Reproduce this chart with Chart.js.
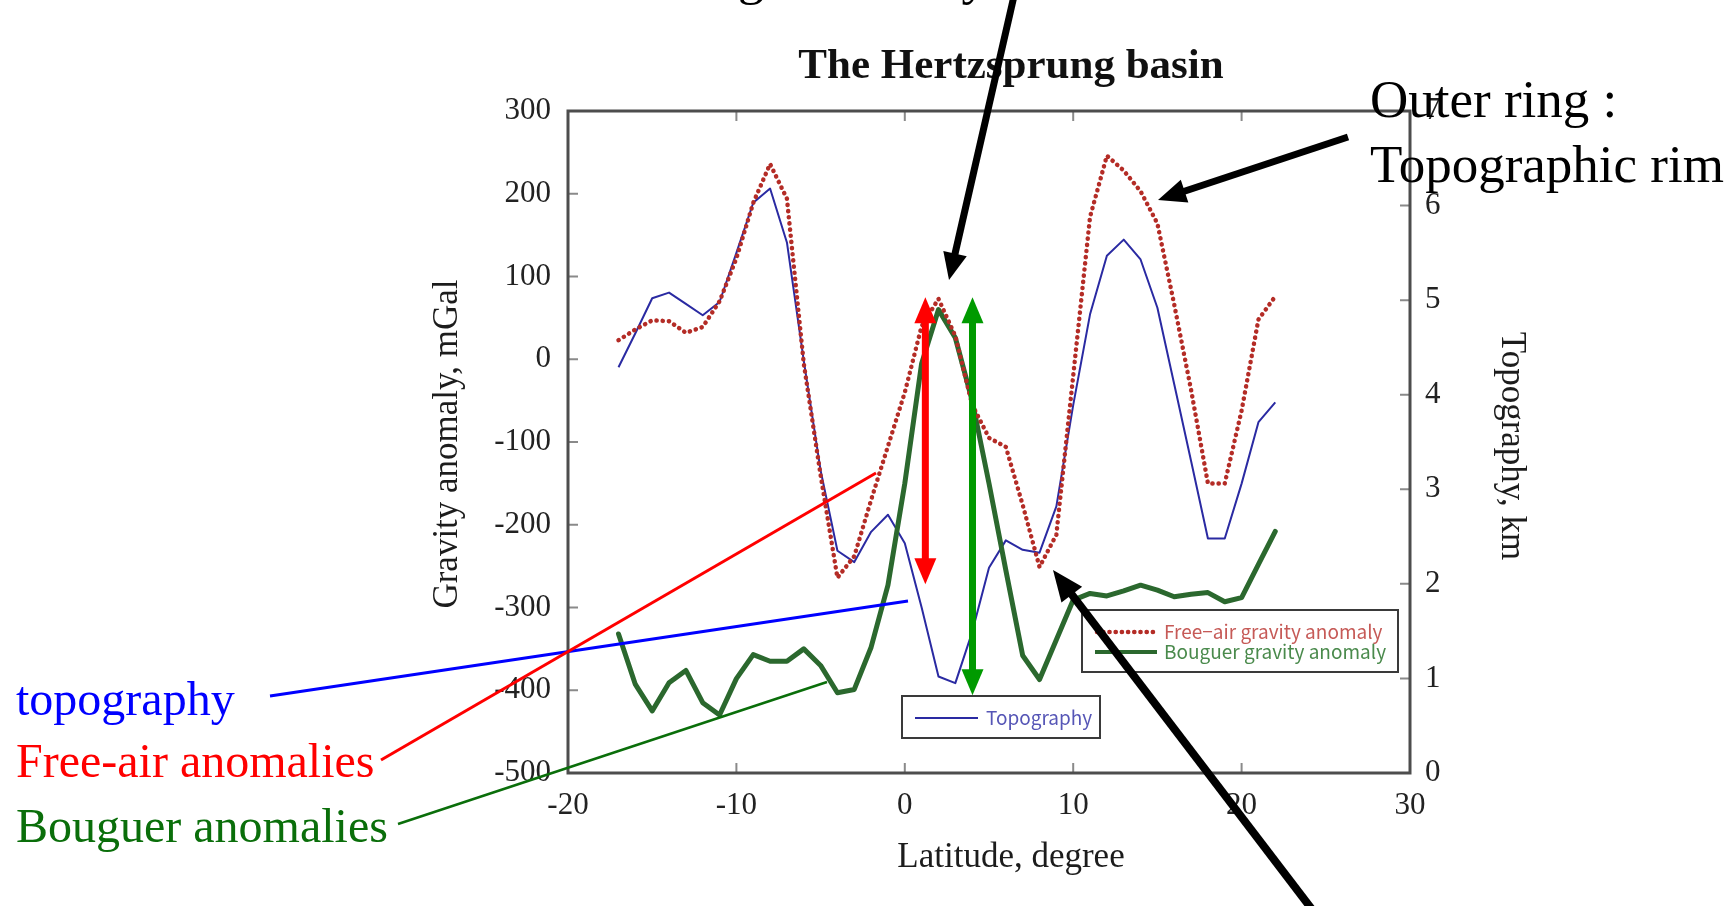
<!DOCTYPE html>
<html>
<head>
<meta charset="utf-8">
<title>The Hertzsprung basin</title>
<script src="https://cdn.jsdelivr.net/npm/chart.js@4.4.1/dist/chart.umd.min.js"></script>
<style>
  html, body { margin: 0; padding: 0; background: #ffffff; }
  canvas { display: block; }
</style>
</head>
<body>
<canvas id="profile" width="1736" height="906"></canvas>
<script>
// Profile across the Hertzsprung basin, sampled every degree of latitude.
const latitude = [-17, -16, -15, -14, -13, -12, -11, -10, -9, -8,
                  -7, -6, -5, -4, -3, -2, -1, 0, 1, 2,
                  3, 4, 5, 6, 7, 8, 9, 10, 11, 12,
                  13, 14, 15, 16, 17, 18, 19, 20, 21, 22];

// Topography, km (right axis)
const topographyKm = [4.29, 4.65, 5.02, 5.08, 4.96, 4.84, 4.98, 5.50, 6.03, 6.18,
                      5.61, 4.36, 3.20, 2.35, 2.23, 2.55, 2.73, 2.43, 1.75, 1.02,
                      0.95, 1.49, 2.17, 2.46, 2.36, 2.33, 2.82, 3.89, 4.85, 5.47,
                      5.64, 5.43, 4.92, 4.11, 3.30, 2.48, 2.48, 3.06, 3.71, 3.92];

// Free-air gravity anomaly, mGal (left axis)
const freeAirMgal = [23, 36, 47, 46, 32, 39, 70, 122, 189, 236,
                     194, -5, -140, -264, -238, -170, -105, -40, 40, 73,
                     28, -55, -95, -106, -176, -251, -212, -20, 172, 246,
                     228, 203, 164, 66, -37, -150, -150, -62, 48, 76];

// Bouguer gravity anomaly, mGal (left axis)
const bouguerMgal = [-332, -393, -425, -391, -376, -415, -430, -386, -357, -365,
                     -365, -350, -370, -403, -399, -348, -273, -150, -5, 60,
                     26, -50, -150, -255, -358, -387, -339, -291, -283, -286,
                     -280, -273, -279, -287, -284, -282, -293, -288, -248, -208];

// Tick labels
const latitudeTicks = [-20, -10, 0, 10, 20, 30];
const gravityTicks = [300, 200, 100, 0, -100, -200, -300, -400, -500];
const topographyTicks = [0, 1, 2, 3, 4, 5, 6, 7];

// Double arrows marking the central anomaly amplitudes (latitude, mGal from, mGal to)
const amplitudeArrows = [
  { lat: 1.22, from: 75, to: -272, color: '#ff0000' },
  { lat: 4.02, from: 75, to: -406, color: '#009a00' }
];

const SERIF = "'Liberation Serif', 'Times New Roman', serif";
const GOTHIC = "'Noto Sans CJK JP', 'DejaVu Sans', sans-serif";

const COLORS = {
  topo: '#2a2aa2',
  freeAir: '#b42c26',
  bouguer: '#2b682e',
  frame: '#4d4d4d',
  tick: '#8a8a8a',
  text: '#1c1c1c'
};

function points(values) {
  return latitude.map((x, i) => ({ x: x, y: values[i] }));
}

function drawHead(ctx, x, y, ang, len, half) {
  const c = Math.cos(ang), s = Math.sin(ang);
  ctx.beginPath();
  ctx.moveTo(x, y);
  ctx.lineTo(x - len * c + half * s, y - len * s - half * c);
  ctx.lineTo(x - len * c - half * s, y - len * s + half * c);
  ctx.closePath();
  ctx.fill();
}

function drawArrow(ctx, x1, y1, x2, y2, opts) {
  const ang = Math.atan2(y2 - y1, x2 - x1);
  const trim = opts.head * 0.85;
  let sx = x1, sy = y1;
  if (opts.both) {
    sx = x1 + Math.cos(ang) * trim;
    sy = y1 + Math.sin(ang) * trim;
  }
  const ex = x2 - Math.cos(ang) * trim;
  const ey = y2 - Math.sin(ang) * trim;
  ctx.save();
  ctx.strokeStyle = opts.color;
  ctx.fillStyle = opts.color;
  ctx.lineWidth = opts.width;
  ctx.lineCap = 'butt';
  ctx.beginPath();
  ctx.moveTo(sx, sy);
  ctx.lineTo(ex, ey);
  ctx.stroke();
  drawHead(ctx, x2, y2, ang, opts.head, opts.half);
  if (opts.both) drawHead(ctx, x1, y1, ang + Math.PI, opts.head, opts.half);
  ctx.restore();
}

function line(ctx, x1, y1, x2, y2, color, width) {
  ctx.save();
  ctx.strokeStyle = color;
  ctx.lineWidth = width;
  ctx.beginPath();
  ctx.moveTo(x1, y1);
  ctx.lineTo(x2, y2);
  ctx.stroke();
  ctx.restore();
}

function text(ctx, str, x, y, font, color, align, baseline, rot) {
  ctx.save();
  ctx.font = font;
  ctx.fillStyle = color;
  ctx.textAlign = align || 'left';
  ctx.textBaseline = baseline || 'alphabetic';
  ctx.translate(x, y);
  if (rot) ctx.rotate(rot);
  ctx.fillText(str, 0, 0);
  ctx.restore();
}

// Box frame with inward tick marks on all four sides
const frameTicks = {
  id: 'frameTicks',
  beforeDatasetsDraw(chart) {
    const { ctx, chartArea: a, scales } = chart;
    ctx.save();
    ctx.strokeStyle = COLORS.tick;
    ctx.lineWidth = 2;
    const L = 10;
    ctx.beginPath();
    latitudeTicks.forEach(v => {
      const x = scales.x.getPixelForValue(v);
      if (x <= a.left + 1 || x >= a.right - 1) return;
      ctx.moveTo(x, a.bottom); ctx.lineTo(x, a.bottom - L);
      ctx.moveTo(x, a.top); ctx.lineTo(x, a.top + L);
    });
    gravityTicks.forEach(v => {
      const y = scales.y.getPixelForValue(v);
      if (y <= a.top + 1 || y >= a.bottom - 1) return;
      ctx.moveTo(a.left, y); ctx.lineTo(a.left + L, y);
    });
    topographyTicks.forEach(v => {
      const y = scales.y2.getPixelForValue(v);
      if (y <= a.top + 1 || y >= a.bottom - 1) return;
      ctx.moveTo(a.right, y); ctx.lineTo(a.right - L, y);
    });
    ctx.stroke();
    ctx.strokeStyle = COLORS.frame;
    ctx.lineWidth = 3;
    ctx.strokeRect(a.left, a.top, a.right - a.left, a.bottom - a.top);
    ctx.restore();
  }
};

// Legends, titles and the explanatory callouts
const callouts = {
  id: 'callouts',
  afterDraw(chart) {
    const { ctx, scales } = chart;
    const ds = chart.data.datasets;
    const fa = ds.find(d => d.key === 'freeAir');
    const bg = ds.find(d => d.key === 'bouguer');
    const tp = ds.find(d => d.key === 'topo');

    // Titles
    text(ctx, 'The Hertzsprung basin', 1011, 78, 'bold 43px ' + SERIF, '#111', 'center');
    text(ctx, 'Latitude, degree', 1011, 858, '35px ' + SERIF, COLORS.text, 'center', 'middle');
    text(ctx, 'Gravity anomaly, mGal', 448, 444, '35px ' + SERIF, COLORS.text, 'center', 'middle', -Math.PI / 2);
    text(ctx, 'Topography, km', 1511, 446, '35px ' + SERIF, COLORS.text, 'center', 'middle', Math.PI / 2);

    // Legend: free-air / Bouguer
    ctx.save();
    ctx.fillStyle = '#ffffff';
    ctx.strokeStyle = '#3a3a3a';
    ctx.lineWidth = 2;
    ctx.fillRect(1082, 610, 316, 62);
    ctx.strokeRect(1082, 610, 316, 62);
    ctx.strokeStyle = fa.borderColor;
    ctx.lineWidth = fa.borderWidth;
    ctx.lineCap = 'round';
    ctx.setLineDash(fa.borderDash);
    ctx.beginPath(); ctx.moveTo(1097, 632); ctx.lineTo(1156, 632); ctx.stroke();
    ctx.setLineDash([]);
    ctx.lineCap = 'butt';
    ctx.strokeStyle = bg.borderColor;
    ctx.lineWidth = 4;
    ctx.beginPath(); ctx.moveTo(1095, 652); ctx.lineTo(1157, 652); ctx.stroke();
    ctx.restore();
    text(ctx, 'Free\u2212air gravity anomaly', 1164, 632, '19px ' + GOTHIC, '#c65a57', 'left', 'middle');
    text(ctx, 'Bouguer gravity anomaly', 1164, 652, '19px ' + GOTHIC, '#4a8a4c', 'left', 'middle');

    // Legend: topography
    ctx.save();
    ctx.fillStyle = '#ffffff';
    ctx.strokeStyle = '#3a3a3a';
    ctx.lineWidth = 2;
    ctx.fillRect(902, 696, 198, 42);
    ctx.strokeRect(902, 696, 198, 42);
    ctx.strokeStyle = tp.borderColor;
    ctx.lineWidth = 2;
    ctx.beginPath(); ctx.moveTo(915, 718); ctx.lineTo(978, 718); ctx.stroke();
    ctx.restore();
    text(ctx, 'Topography', 986, 718, '19px ' + GOTHIC, '#5656b6', 'left', 'middle');

    // Amplitude double arrows, placed on the data scales
    amplitudeArrows.forEach(a => {
      const x = scales.x.getPixelForValue(a.lat);
      const y1 = scales.y.getPixelForValue(a.from);
      const y2 = scales.y.getPixelForValue(a.to);
      drawArrow(ctx, x, y1, x, y2, { color: a.color, width: 7, head: 26, half: 11, both: true });
    });

    // Coloured pointer lines from the left-hand labels
    line(ctx, 270, 696, 908, 601, '#0000ff', 3);
    line(ctx, 381, 760, 876, 473, '#ff0000', 3);
    line(ctx, 398, 824, 827, 682, '#0a6e0a', 2.5);

    text(ctx, 'topography', 16, 715, '48px ' + SERIF, '#0000ff');
    text(ctx, 'Free-air anomalies', 16, 777, '48px ' + SERIF, '#ff0000');
    text(ctx, 'Bouguer anomalies', 16, 842, '48px ' + SERIF, '#0a6e0a');

    // Ring callouts
    text(ctx, 'Inner ring : anomaly', 988, -6, '53px ' + SERIF, '#000000', 'right');
    text(ctx, 'Outer ring :', 1370, 117, '53px ' + SERIF, '#000000');
    text(ctx, 'Topographic rim', 1370, 182, '53px ' + SERIF, '#000000');

    drawArrow(ctx, 1014, -4, 949, 280, { color: '#000000', width: 7, head: 27, half: 12 });
    drawArrow(ctx, 1348, 137, 1158, 200, { color: '#000000', width: 7, head: 28, half: 12 });
    drawArrow(ctx, 1314, 912, 1053, 570, { color: '#000000', width: 8, head: 31, half: 13 });
  }
};

const tickFont = { family: SERIF, size: 31 };

new Chart(document.getElementById('profile'), {
  type: 'line',
  data: {
    datasets: [
      {
        key: 'freeAir',
        label: 'Free-air gravity anomaly',
        data: points(freeAirMgal),
        yAxisID: 'y',
        borderColor: COLORS.freeAir,
        borderWidth: 4.5,
        borderDash: [0.2, 6],
        borderCapStyle: 'round',
        borderJoinStyle: 'round',
        pointRadius: 0,
        tension: 0,
        fill: false,
        order: 0
      },
      {
        key: 'bouguer',
        label: 'Bouguer gravity anomaly',
        data: points(bouguerMgal),
        yAxisID: 'y',
        borderColor: COLORS.bouguer,
        borderWidth: 5,
        borderJoinStyle: 'round',
        borderCapStyle: 'round',
        pointRadius: 0,
        tension: 0,
        fill: false,
        order: 1
      },
      {
        key: 'topo',
        label: 'Topography',
        data: points(topographyKm),
        yAxisID: 'y2',
        borderColor: COLORS.topo,
        borderWidth: 2,
        borderJoinStyle: 'round',
        pointRadius: 0,
        tension: 0,
        fill: false,
        order: 2
      }
    ]
  },
  options: {
    responsive: false,
    animation: false,
    devicePixelRatio: 1,
    events: [],
    layout: { padding: { top: 111, left: 0, right: 0, bottom: 0 } },
    plugins: {
      legend: { display: false },
      tooltip: { enabled: false },
      title: { display: false }
    },
    scales: {
      x: {
        type: 'linear',
        position: 'bottom',
        min: -20,
        max: 30,
        afterBuildTicks: s => { s.ticks = latitudeTicks.map(v => ({ value: v })); },
        afterFit: s => { s.height = 133; },
        grid: { display: false, drawTicks: false },
        border: { display: false },
        ticks: { font: tickFont, color: '#222', padding: 14, maxRotation: 0, callback: v => String(v) }
      },
      y: {
        type: 'linear',
        position: 'left',
        min: -500,
        max: 300,
        afterBuildTicks: s => { s.ticks = gravityTicks.map(v => ({ value: v })); },
        afterFit: s => { s.width = 568; },
        grid: { display: false, drawTicks: false },
        border: { display: false },
        ticks: { font: tickFont, color: '#222', padding: 17, callback: v => String(v) }
      },
      y2: {
        type: 'linear',
        position: 'right',
        min: 0,
        max: 7,
        afterBuildTicks: s => { s.ticks = topographyTicks.map(v => ({ value: v })); },
        afterFit: s => { s.width = 326; },
        grid: { display: false, drawTicks: false },
        border: { display: false },
        ticks: { font: tickFont, color: '#222', padding: 15, callback: v => String(v) }
      }
    }
  },
  plugins: [frameTicks, callouts]
});
</script>
</body>
</html>
